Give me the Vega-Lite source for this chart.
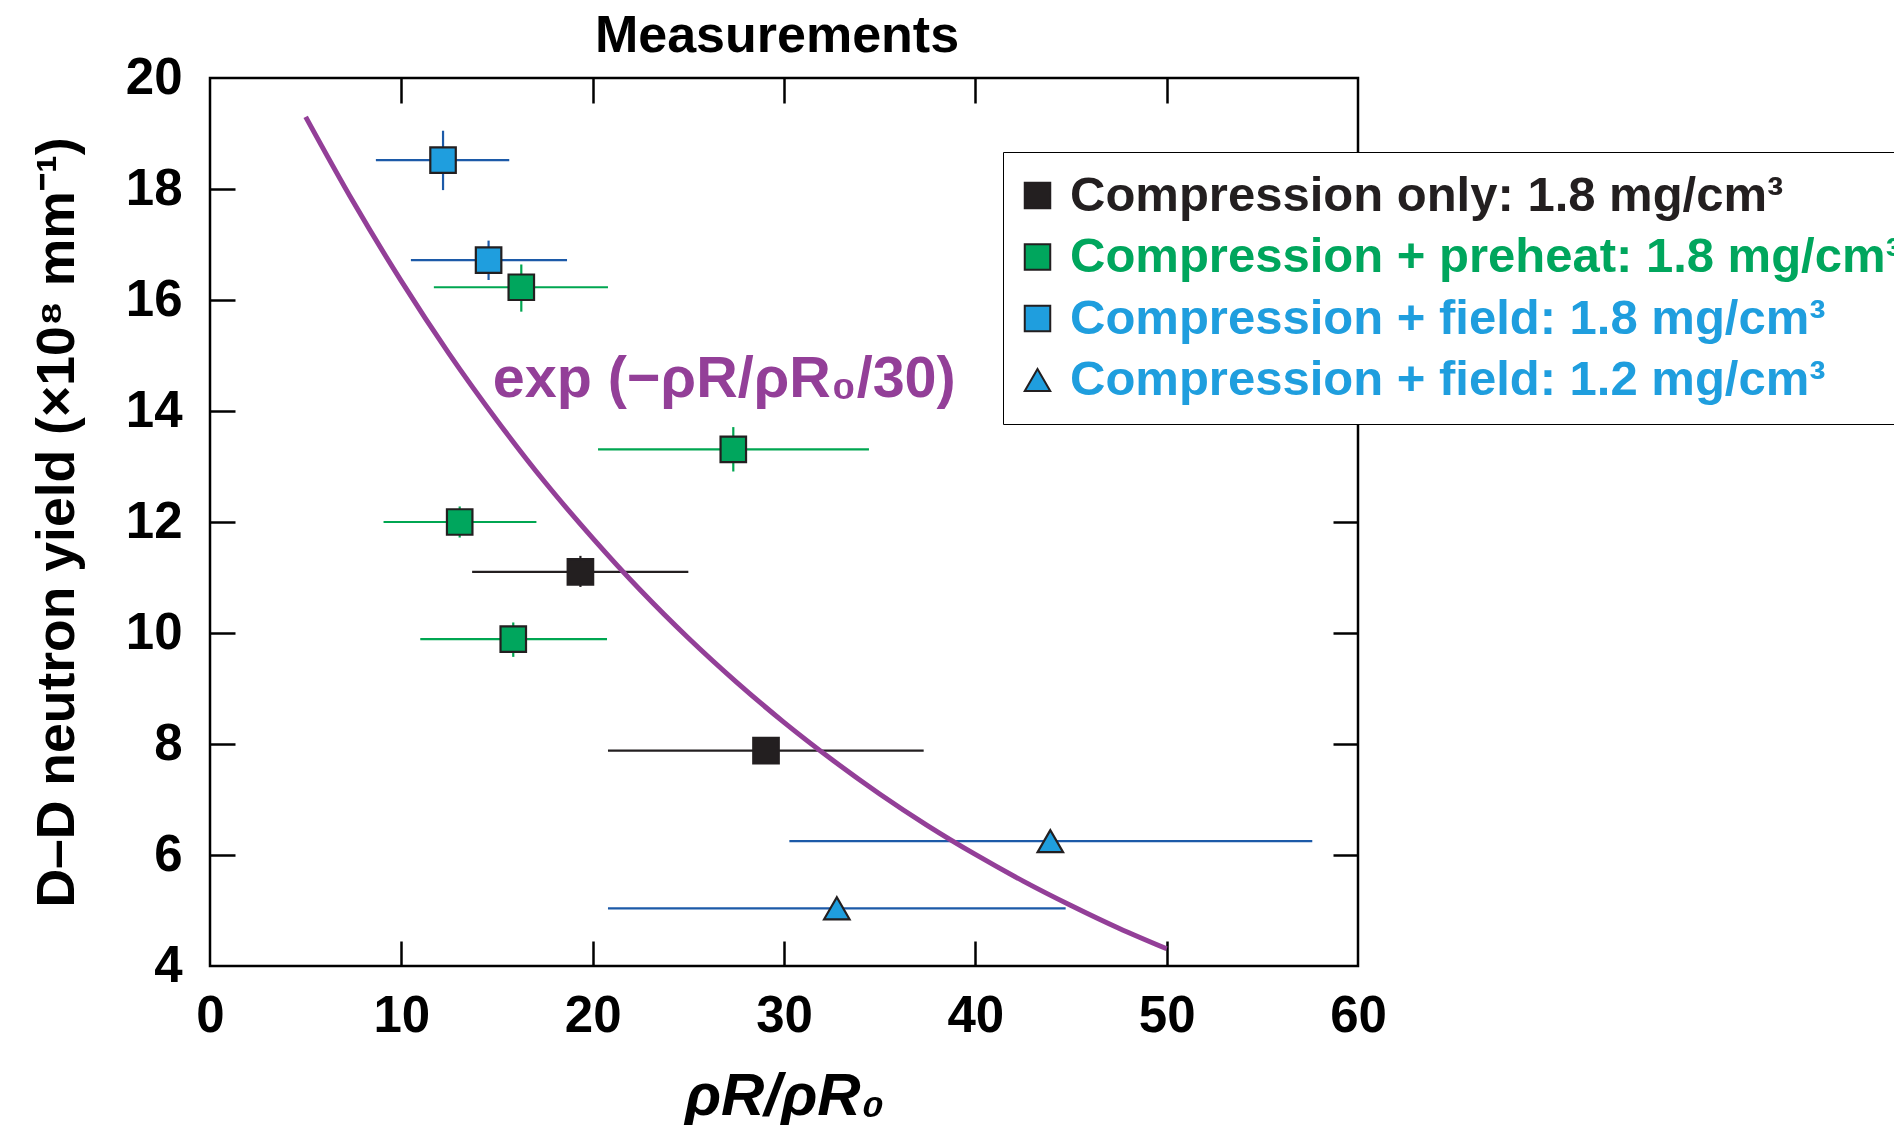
{
  "$schema": "https://vega.github.io/schema/vega-lite/v6.json",
  "width": 1148,
  "height": 888,
  "autosize": "none",
  "padding": {"left": 210, "top": 78, "right": 536, "bottom": 159},
  "background": "white",
  "title": {"text": "Measurements", "fontSize": 52, "font": "Liberation Sans", "fontWeight": "bold", "anchor": "middle", "offset": -11, "color": "#000000", "dx": -7},
  "config": {
    "font": "Liberation Sans",
    "view": {"stroke": "#000000", "strokeWidth": 2.5},
    "axis": {"grid": false, "domain": false, "labelFont": "Liberation Sans", "titleFont": "Liberation Sans"}
  },
  "datasets": {
    "pts": [
      {"series": "Compression only: 1.8 mg/cm³", "x": 19.36, "y": 11.1, "xlo": 13.7, "xhi": 25.0, "ylo": 10.83, "yhi": 11.39},
      {"series": "Compression only: 1.8 mg/cm³", "x": 29.06, "y": 7.88, "xlo": 20.8, "xhi": 37.3, "ylo": 7.8, "yhi": 7.96},
      {"series": "Compression + preheat: 1.8 mg/cm³", "x": 16.27, "y": 16.23, "xlo": 11.7, "xhi": 20.8, "ylo": 15.79, "yhi": 16.64},
      {"series": "Compression + preheat: 1.8 mg/cm³", "x": 13.05, "y": 12.0, "xlo": 9.07, "xhi": 17.06, "ylo": 11.72, "yhi": 12.28},
      {"series": "Compression + preheat: 1.8 mg/cm³", "x": 15.85, "y": 9.89, "xlo": 10.99, "xhi": 20.75, "ylo": 9.57, "yhi": 10.19},
      {"series": "Compression + preheat: 1.8 mg/cm³", "x": 27.35, "y": 13.31, "xlo": 20.28, "xhi": 34.44, "ylo": 12.91, "yhi": 13.71},
      {"series": "Compression + field: 1.8 mg/cm³", "x": 12.18, "y": 18.52, "xlo": 8.67, "xhi": 15.64, "ylo": 17.98, "yhi": 19.05},
      {"series": "Compression + field: 1.8 mg/cm³", "x": 14.56, "y": 16.72, "xlo": 10.5, "xhi": 18.66, "ylo": 16.36, "yhi": 17.07},
      {"series": "Compression + field: 1.2 mg/cm³", "x": 43.92, "y": 6.25, "xlo": 30.28, "xhi": 57.61, "ylo": 6.2, "yhi": 6.3},
      {"series": "Compression + field: 1.2 mg/cm³", "x": 32.76, "y": 5.04, "xlo": 20.8, "xhi": 44.72, "ylo": 5.0, "yhi": 5.08}
    ],
    "curve": [
      {"x": 5, "y": 19.3}, {"x": 7.5, "y": 17.76}, {"x": 10, "y": 16.34}, {"x": 12.5, "y": 15.03},
      {"x": 15, "y": 13.83}, {"x": 17.5, "y": 12.72}, {"x": 20, "y": 11.71}, {"x": 22.5, "y": 10.77},
      {"x": 25, "y": 9.91}, {"x": 27.5, "y": 9.12}, {"x": 30, "y": 8.39}, {"x": 32.5, "y": 7.72},
      {"x": 35, "y": 7.1}, {"x": 37.5, "y": 6.53}, {"x": 40, "y": 6.01}, {"x": 42.5, "y": 5.53},
      {"x": 45, "y": 5.09}, {"x": 47.5, "y": 4.68}, {"x": 50, "y": 4.31}
    ],
    "note": [
      {"x": 14.78, "y": 14.25, "label": "exp (−ρR/ρR₀/30)"}
    ]
  },
  "layer": [
    {
      "data": {"name": "pts"},
      "mark": {"type": "rule", "strokeWidth": 2.2},
      "encoding": {
        "x": {"field": "xlo", "type": "quantitative", "scale": {"domain": [0, 60], "nice": false, "zero": false},
          "axis": {"orient": "bottom", "values": [10, 20, 30, 40, 50], "labels": false, "ticks": true, "tickSize": 25, "offset": -25, "tickWidth": 2.5, "tickColor": "#000000", "domain": false, "title": null}},
        "x2": {"field": "xhi"},
        "y": {"field": "y", "type": "quantitative", "scale": {"domain": [4, 20], "nice": false, "zero": false},
          "axis": {"orient": "left", "values": [6, 8, 10, 12, 14, 16, 18], "labels": false, "ticks": true, "tickSize": 25, "offset": -25, "tickWidth": 2.5, "tickColor": "#000000", "domain": false, "title": null}},
        "stroke": {"field": "series", "type": "nominal", "legend": null,
          "scale": {"domain": ["Compression + field: 1.2 mg/cm³", "Compression + field: 1.8 mg/cm³", "Compression + preheat: 1.8 mg/cm³", "Compression only: 1.8 mg/cm³"],
                    "range": ["#1c5aa8", "#1c5aa8", "#00a651", "#231f20"]}}
      }
    },
    {
      "data": {"name": "pts"},
      "mark": {"type": "rule", "strokeWidth": 2.2},
      "encoding": {
        "x": {"field": "x", "type": "quantitative", "scale": {"domain": [0, 60], "nice": false, "zero": false},
          "axis": {"orient": "top", "values": [10, 20, 30, 40, 50], "labels": false, "ticks": true, "tickSize": 25, "offset": -25, "tickWidth": 2.5, "tickColor": "#000000", "domain": false, "title": null}},
        "y": {"field": "ylo", "type": "quantitative", "scale": {"domain": [4, 20], "nice": false, "zero": false},
          "axis": {"orient": "right", "values": [6, 8, 10, 12, 14, 16, 18], "labels": false, "ticks": true, "tickSize": 25, "offset": -25, "tickWidth": 2.5, "tickColor": "#000000", "domain": false, "title": null}},
        "y2": {"field": "yhi"},
        "stroke": {"field": "series", "type": "nominal", "legend": null}
      }
    },
    {
      "data": {"name": "curve"},
      "mark": {"type": "line", "color": "#933f98", "strokeWidth": 5, "interpolate": "monotone"},
      "encoding": {
        "x": {"field": "x", "type": "quantitative", "scale": {"domain": [0, 60], "nice": false, "zero": false},
          "axis": {"orient": "bottom", "values": [0, 10, 20, 30, 40, 50, 60], "ticks": false, "tickSize": 0, "domain": false,
            "labelFontSize": 51, "labelFontWeight": "bold", "labelColor": "#000000", "labelPadding": 25, "labelFlush": false, "labelOverlap": false, "labelBound": false,
            "title": "ρR/ρR₀", "titleFontSize": 60, "titleFontWeight": "bold", "titleFontStyle": "italic", "titleColor": "#000000", "titleY": 148, "titleBaseline": "alphabetic"}},
        "y": {"field": "y", "type": "quantitative", "scale": {"domain": [4, 20], "nice": false, "zero": false},
          "axis": {"orient": "left", "values": [4, 6, 8, 10, 12, 14, 16, 18, 20], "ticks": false, "tickSize": 0, "domain": false,
            "labelFontSize": 51, "labelFontWeight": "bold", "labelColor": "#000000", "labelPadding": 28, "labelFlush": false, "labelOverlap": false, "labelBound": false,
            "title": "D–D neutron yield (×10⁸ mm⁻¹)", "titleFontSize": 53.5, "titleFontWeight": "bold", "titleColor": "#000000", "titleAngle": -90, "titleX": -137, "titleY": 444, "titleBaseline": "alphabetic", "titleAlign": "center"}}
      }
    },
    {
      "data": {"name": "pts"},
      "mark": {"type": "point", "filled": true, "size": 650, "stroke": "#231f20", "strokeWidth": 2.2, "opacity": 1},
      "encoding": {
        "x": {"field": "x", "type": "quantitative", "axis": null},
        "y": {"field": "y", "type": "quantitative", "axis": null},
        "color": {"field": "series", "type": "nominal",
          "scale": {"domain": ["Compression only: 1.8 mg/cm³", "Compression + preheat: 1.8 mg/cm³", "Compression + field: 1.8 mg/cm³", "Compression + field: 1.2 mg/cm³"],
                    "range": ["#231f20", "#00a65d", "#1f9ede", "#1f9ede"]},
          "legend": {
            "title": null, "orient": "none", "legendX": 793, "legendY": 74,
            "strokeColor": "#000000", "fillColor": "#ffffff", "padding": 19,
            "rowPadding": 11.5, "labelFontSize": 49, "labelFont": "Liberation Sans", "labelFontWeight": "bold", "labelLimit": 1200,
            "labelOffset": 8, "symbolOffset": -9, "symbolSize": 650, "symbolStrokeColor": "#231f20", "symbolStrokeWidth": 2,
            "labelColor": {"expr": "scale('color', datum.value)"},
            "encode": {"legend": {"update": {"strokeWidth": {"value": 3}}}}
          }},
        "shape": {"field": "series", "type": "nominal",
          "scale": {"domain": ["Compression only: 1.8 mg/cm³", "Compression + preheat: 1.8 mg/cm³", "Compression + field: 1.8 mg/cm³", "Compression + field: 1.2 mg/cm³"],
                    "range": ["square", "square", "square", "triangle-up"]}}
      }
    },
    {
      "data": {"name": "note"},
      "mark": {"type": "text", "align": "left", "baseline": "alphabetic", "fontSize": 57.5, "fontWeight": "bold", "font": "Liberation Sans", "color": "#933f98"},
      "encoding": {
        "x": {"field": "x", "type": "quantitative", "axis": null},
        "y": {"field": "y", "type": "quantitative", "axis": null},
        "text": {"field": "label"}
      }
    }
  ],
  "resolve": {"axis": {"x": "independent", "y": "independent"}}
}
